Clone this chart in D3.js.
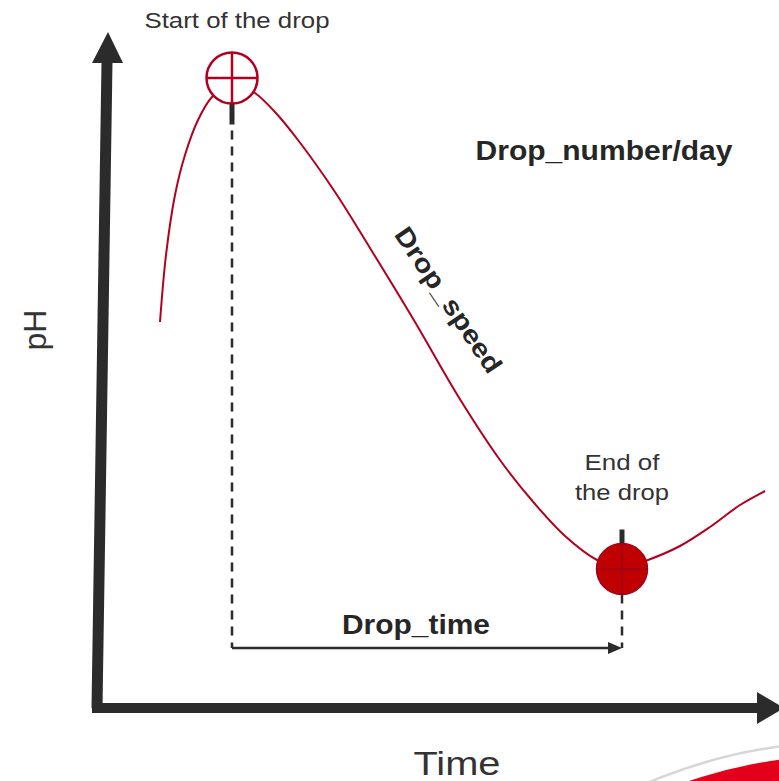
<!DOCTYPE html>
<html>
<head>
<meta charset="utf-8">
<script src="https://cdn.jsdelivr.net/npm/d3@7"></script>
<style>
  body { margin: 0; background: #fff; }
  svg { display: block; font-family: "Liberation Sans", Arial, sans-serif; }
</style>
</head>
<body>
<div id="chart"></div>
<script>
// pH drop chart
var svgWidth = 779;
var svgHeight = 781;

// curve data (time, pH)
var timeValues = [6.5, 7.1, 8.0, 9.0, 10.3, 11.7, 13.8, 16.0, 18.0, 20.3, 24.0, 27.5, 32.0, 36.3, 40.5, 44.0, 47.0, 50.2, 52.7, 55.3, 58.5, 61.5, 64.5, 67.0];
var phValues = [3.88, 4.55, 5.15, 5.55, 5.90, 6.13, 6.28, 6.17, 5.98, 5.70, 5.18, 4.62, 3.88, 3.14, 2.50, 2.06, 1.74, 1.50, 1.42, 1.50, 1.64, 1.83, 2.05, 2.19];

// start / end of the drop
var dropTimes = [13.7, 52.7];
var dropPh = [6.32, 1.41];

var chartData = timeValues.map(function(t, i) {
  return { time: t, ph: phValues[i] };
});

var svg = d3.select("#chart")
  .append("svg")
  .attr("width", svgWidth)
  .attr("height", svgHeight);

var xScale = d3.scaleLinear()
  .domain([0, 68])
  .range([95, 775]);

var yScale = d3.scaleLinear()
  .domain([0, 6.8])
  .range([710, 30]);

var axisColor = "#2b2b2b";
var red = "#b3001e";

// logo edge bottom right
svg.append("circle")
  .attr("cx", 848).attr("cy", 1254).attr("r", 512)
  .attr("fill", "none")
  .attr("stroke", "#d6d6d6")
  .attr("stroke-width", 2.5);
svg.append("circle")
  .attr("cx", 848).attr("cy", 1254).attr("r", 499)
  .attr("fill", "#e2001a");

// axes (thick arrows)
svg.append("path")
  .attr("d", "M97,708 L107,62")
  .attr("stroke", axisColor)
  .attr("stroke-width", 11)
  .attr("fill", "none");
svg.append("path")
  .attr("d", "M92,63 L108,32 L123,63 Z")
  .attr("fill", axisColor);

svg.append("path")
  .attr("d", "M92,708 L760,708")
  .attr("stroke", axisColor)
  .attr("stroke-width", 10)
  .attr("fill", "none");
svg.append("path")
  .attr("d", "M757,692 L784,708 L757,724 Z")
  .attr("fill", axisColor);

// axis titles
svg.append("text")
  .attr("transform", "translate(46, 330) rotate(-90)")
  .attr("text-anchor", "middle")
  .attr("font-size", 32)
  .attr("fill", "#333")
  .text("pH");

svg.append("text")
  .attr("x", 457)
  .attr("y", 775)
  .attr("text-anchor", "middle")
  .attr("font-size", 34)
  .attr("textLength", 87)
  .attr("lengthAdjust", "spacingAndGlyphs")
  .attr("fill", "#333")
  .text("Time");

// the pH curve
var line = d3.line()
  .x(d => xScale(d.time))
  .y(d => yScale(d.ph))
  .curve(d3.curveCatmullRom.alpha(0.5));

svg.append("path")
  .datum(chartData)
  .attr("d", line)
  .attr("fill", "none")
  .attr("stroke", red)
  .attr("stroke-width", 2);

var x0 = xScale(dropTimes[0]);
var x1 = xScale(dropTimes[1]);
var y0 = yScale(dropPh[0]);
var y1 = yScale(dropPh[1]);
var r = 25.5;
var baseY = 648;

// ticks at the markers
svg.append("line")
  .attr("x1", x0).attr("x2", x0)
  .attr("y1", y0 + r).attr("y2", y0 + r + 21)
  .attr("stroke", axisColor)
  .attr("stroke-width", 5);
svg.append("line")
  .attr("x1", x1).attr("x2", x1)
  .attr("y1", y1 - r - 14).attr("y2", y1 - r)
  .attr("stroke", axisColor)
  .attr("stroke-width", 5);

// dashed guides
svg.append("line")
  .attr("x1", x0).attr("x2", x0)
  .attr("y1", y0 + r + 27).attr("y2", baseY)
  .attr("stroke", axisColor)
  .attr("stroke-width", 2.5)
  .attr("stroke-dasharray", "9,7");
svg.append("line")
  .attr("x1", x1).attr("x2", x1)
  .attr("y1", y1 + r).attr("y2", baseY)
  .attr("stroke", axisColor)
  .attr("stroke-width", 2.5)
  .attr("stroke-dasharray", "9,7");

// Drop_time arrow
svg.append("line")
  .attr("x1", x0).attr("x2", x1 - 10)
  .attr("y1", baseY).attr("y2", baseY)
  .attr("stroke", axisColor)
  .attr("stroke-width", 2.5);
svg.append("path")
  .attr("d", `M${x1 - 14},${baseY - 6} L${x1},${baseY} L${x1 - 14},${baseY + 6} Z`)
  .attr("fill", axisColor);

// start marker: open circle with cross
svg.append("circle")
  .attr("cx", x0).attr("cy", y0).attr("r", r)
  .attr("fill", "#fff")
  .attr("stroke", red)
  .attr("stroke-width", 2.5);
svg.append("path")
  .attr("d", `M${x0 - r},${y0} L${x0 + r},${y0} M${x0},${y0 - r} L${x0},${y0 + r}`)
  .attr("stroke", red)
  .attr("stroke-width", 2.5);

// end marker: filled circle with cross
svg.append("circle")
  .attr("cx", x1).attr("cy", y1).attr("r", r)
  .attr("fill", "#c00000")
  .attr("stroke", "#a3001c")
  .attr("stroke-width", 1.5);
svg.append("path")
  .attr("d", `M${x1 - r},${y1} L${x1 + r},${y1} M${x1},${y1 - r} L${x1},${y1 + r}`)
  .attr("stroke", "#99001a")
  .attr("stroke-width", 1.5);

// labels
function label(x, y, txt, size, width, bold) {
  return svg.append("text")
    .attr("x", x).attr("y", y)
    .attr("text-anchor", "middle")
    .attr("font-size", size)
    .attr("font-weight", bold ? "bold" : "normal")
    .attr("fill", bold ? "#262626" : "#333")
    .attr("textLength", width)
    .attr("lengthAdjust", "spacingAndGlyphs")
    .text(txt);
}

label(237, 28, "Start of the drop", 22, 185, false);
label(x1, 470, "End of", 22, 75, false);
label(x1, 500, "the drop", 22, 94, false);
label(604, 160, "Drop_number/day", 27, 257, true);
label(416, 634, "Drop_time", 27, 148, true);

svg.append("text")
  .attr("transform", "translate(441, 305) rotate(56)")
  .attr("text-anchor", "middle")
  .attr("font-size", 26)
  .attr("font-weight", "bold")
  .attr("fill", "#262626")
  .attr("textLength", 170)
  .attr("lengthAdjust", "spacingAndGlyphs")
  .text("Drop_speed");
</script>
</body>
</html>
